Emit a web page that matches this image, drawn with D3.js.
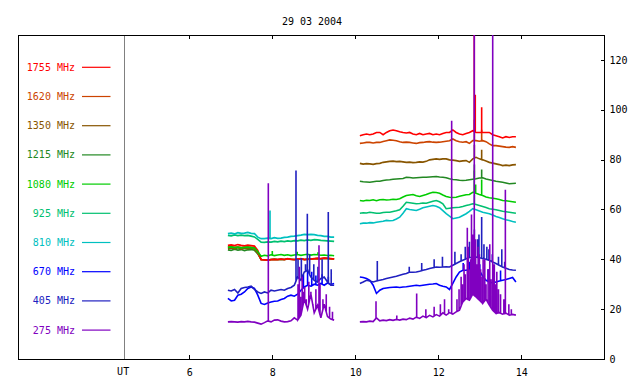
<!DOCTYPE html>
<html><head><meta charset="utf-8">
<script src="https://cdn.jsdelivr.net/npm/d3@7"></script>
<style>
body{margin:0;background:#fff;}
svg{display:block;}
text{font-family:"DejaVu Sans Mono","Liberation Mono",monospace;font-size:10px;}
</style></head>
<body>
<svg id="c" width="640" height="384"></svg>
<script>
// ---- data ----
const title = "29 03 2004";
const freqs = ["1755 MHz","1620 MHz","1350 MHz","1215 MHz","1080 MHz","925 MHz","810 MHz","670 MHz","405 MHz","275 MHz"];
const colors = ["#ff0000","#cc4400","#885500","#228822","#00cc00","#00c070","#00c0c0","#0000ff","#2020c0","#8000c0"];
const xTicks = [6,8,10,12,14];
const yTicks = [0,20,40,60,80,100,120];
const seg1Start = 6.93, seg2Start = 10.11, sampleStep = 0.08;

// segment 1 (33 samples), segment 2 (48 samples)
const v1755a = [45.6,45.8,45.5,45.9,45.6,45.4,45.7,45.5,45.3,43.6,39.9,39.8,39.6,39.9,40.0,39.9,40.1,39.9,40.3,40.0,39.9,40.1,40.3,39.9,40.0,40.1,40.3,40.4,40.3,40.5,40.4,40.3,40.1];
const v1755b = [89.6,90.0,90.3,90.0,90.3,90.9,90.9,90.0,90.9,91.6,91.9,91.6,91.2,90.9,90.7,90.9,90.3,90.0,90.5,90.0,90.3,90.5,90.0,90.3,90.0,90.5,90.9,90.9,91.9,90.9,90.3,90.0,90.5,90.9,91.6,90.9,90.9,90.9,90.9,90.9,90.0,89.6,89.2,88.7,89.2,88.9,89.2,89.2];
const v1620a = [44.9,45.1,44.8,45.0,44.7,44.9,45.0,44.8,44.6,42.8,39.8,39.7,39.6,39.8,39.9,39.8,40.0,39.8,40.1,39.9,39.8,40.0,40.1,39.8,39.9,40.0,40.2,40.3,40.2,40.3,40.3,40.2,40.0];
const v1620b = [86.5,86.7,86.9,86.9,86.7,86.9,86.9,87.3,87.6,87.9,87.8,87.6,87.2,86.9,87.0,86.9,86.7,86.5,86.8,86.9,87.1,87.2,87.0,86.9,87.0,87.2,87.4,87.6,88.3,87.6,87.2,87.0,87.2,86.5,87.6,87.6,87.4,87.6,87.2,86.3,85.6,85.6,85.4,85.2,85.0,84.9,85.2,84.9];
const v1350a = [44.3,44.5,44.2,44.6,44.1,44.4,44.3,44.5,44.0,42.5,39.9,39.8,39.7,39.9,40.0,39.9,40.0,39.9,40.1,40.0,39.9,40.0,40.2,39.9,40.0,40.1,40.2,40.3,40.2,40.4,40.3,40.2,40.1];
const v1350b = [78.5,78.2,78.4,78.3,78.1,78.4,78.5,78.9,79.1,79.3,79.4,79.2,79.3,79.1,78.9,79.0,78.8,78.9,79.1,79.0,79.3,79.9,80.1,80.3,80.1,80.3,80.3,79.9,79.8,79.6,79.3,79.5,79.6,78.9,80.3,80.9,80.3,79.9,79.4,78.9,78.6,78.3,78.0,77.6,77.8,77.6,77.9,78.0];
const v1215a = [43.8,43.6,44.0,43.7,43.9,43.5,43.8,43.9,43.6,42.2,39.9,39.8,39.7,39.9,40.0,39.9,40.0,39.9,40.1,40.0,39.9,40.0,40.2,39.9,40.0,40.1,40.2,40.3,40.2,40.4,40.3,40.2,40.1];
const v1215b = [71.3,71.1,71.0,70.9,71.1,71.3,71.3,71.6,71.8,71.9,72.1,72.2,72.3,72.4,72.9,72.8,72.6,72.7,72.8,72.9,72.9,73.0,73.1,73.2,73.0,72.9,72.7,72.3,72.0,71.9,71.7,71.6,71.7,71.9,72.1,72.3,72.6,72.7,72.2,71.9,71.6,71.3,71.1,70.9,70.6,70.3,70.4,70.5];
const v1080a = [44.8,45.0,44.7,44.9,44.6,44.8,44.9,44.7,44.5,43.0,41.2,41.6,41.4,41.8,41.5,41.7,41.9,41.6,41.8,41.5,41.7,41.9,41.6,41.8,42.0,41.7,41.9,41.8,41.6,41.7,41.5,41.6,41.4];
const v1080b = [63.6,63.4,63.7,63.6,63.9,63.5,63.9,64.0,63.8,63.9,64.1,64.0,64.3,65.0,65.6,65.8,66.0,65.5,65.2,65.6,66.0,66.5,66.9,66.8,66.5,65.8,65.2,64.9,64.8,64.9,65.3,65.6,65.9,66.0,66.9,66.5,66.0,65.6,65.0,64.7,64.5,64.3,64.0,63.6,63.5,63.3,63.1,62.9];
const v925a = [49.6,49.4,49.8,49.5,49.7,49.5,49.6,49.3,49.0,48.0,46.9,46.8,47.0,46.9,47.2,47.0,47.3,47.1,47.4,47.2,47.5,47.4,47.7,47.5,47.8,47.6,47.9,47.8,47.6,47.5,47.4,47.3,47.2];
const v925b = [58.5,58.7,58.6,58.9,58.7,58.5,58.5,58.8,58.9,58.9,59.2,59.5,59.9,61.3,62.9,62.7,62.5,62.3,62.4,62.6,62.5,62.9,63.3,63.6,63.1,62.3,60.3,60.5,60.7,60.8,60.9,61.2,61.6,61.9,62.3,62.0,61.6,61.2,60.8,60.3,60.1,59.9,59.6,59.3,59.1,58.9,58.7,58.5];
const v810a = [50.3,50.5,50.2,50.7,50.4,50.5,50.8,50.4,50.3,48.9,48.3,48.3,48.5,48.3,48.7,48.4,48.5,48.8,48.9,49.2,49.3,49.5,49.7,50.0,49.9,50.0,49.9,49.6,49.5,49.2,49.2,48.9,48.9];
const v810b = [54.3,54.5,54.5,54.7,54.6,54.9,55.1,55.3,55.6,55.5,55.6,56.2,56.9,58.5,60.3,60.0,59.8,59.6,60.1,60.7,61.0,61.3,61.6,61.3,60.7,59.5,58.3,57.3,56.3,56.6,56.9,57.6,58.3,59.2,60.3,59.9,59.4,58.9,58.6,58.3,57.8,57.2,56.8,56.3,55.9,55.6,55.2,54.9];
const v670a = [24.3,23.3,23.6,25.6,26.0,26.9,28.3,28.9,28.3,25.6,22.3,21.9,22.5,22.9,23.2,23.3,23.9,24.3,25.2,25.6,25.2,26.0,27.6,28.9,29.6,29.2,30.0,29.6,30.3,29.6,30.5,29.9,30.3];
const v670b = [32.9,32.7,32.3,31.6,29.6,26.3,27.6,28.3,28.5,28.7,28.8,28.9,28.7,28.9,29.0,29.2,29.4,29.6,29.4,29.6,29.8,30.0,30.1,30.3,29.6,29.2,28.9,27.9,30.3,32.9,34.9,35.6,35.6,35.9,36.3,36.7,35.6,33.2,31.6,30.9,30.5,30.9,31.3,31.6,31.9,32.3,32.7,30.9];
const v405a = [27.6,27.3,27.9,26.5,28.3,28.7,28.9,29.2,27.9,26.9,26.3,26.9,26.5,27.6,27.3,27.6,27.9,27.6,28.3,28.7,29.6,32.9,31.6,34.9,35.6,32.9,31.6,30.9,32.3,32.9,30.9,29.6,29.6];
const v405b = [30.3,30.9,31.6,31.3,30.9,31.3,31.6,31.9,32.3,32.6,32.9,33.2,33.6,34.0,34.3,34.9,34.8,34.9,35.2,35.6,35.9,36.3,36.6,36.9,36.8,36.9,37.0,36.9,37.6,38.3,39.0,39.6,40.2,40.7,40.8,40.9,40.6,40.3,40.0,39.6,38.9,38.3,37.6,36.9,36.4,35.9,35.7,35.6];
const v275a = [14.9,15.0,14.9,14.8,15.0,14.9,15.1,14.9,14.8,14.4,14.0,14.6,15.3,14.9,15.6,15.7,15.2,14.9,15.0,15.3,16.5,15.6,17.6,24.0,20.0,26.0,18.5,21.5,16.5,22.0,17.0,16.0,15.6];
const v275b = [14.9,15.0,14.9,15.2,15.0,16.5,15.3,15.6,15.4,15.8,15.5,15.9,15.6,16.0,15.8,16.4,16.0,16.8,16.3,17.2,16.6,17.5,16.9,17.8,17.2,18.5,17.6,18.6,18.0,18.9,19.6,22.9,24.3,23.6,26.0,24.9,23.6,22.3,24.0,21.6,19.6,18.3,18.6,18.0,18.4,17.6,17.9,17.6];

// spikes: [time (h UT), peak value]
const s1755 = [[12.867,131],[12.891,106],[13.045,101]];
const s1620 = [[12.87,96],[13.045,92]];
const s1350 = [[12.87,86],[13.045,84]];
const s1215 = [[12.87,78],[13.045,76]];
const s1080 = [[8.0,43.3],[8.6,43],[9.1,42.8],[12.867,75.6],[12.9,70],[13.045,72]];
const s925 = [[12.87,66]];
const s810 = [[7.945,59.6]];
const s670 = [[8.75,34],[8.85,36],[8.95,35],[9.05,33.5],[9.2,34],[9.35,33],[12.6,38.5],[12.75,39],[13.0,38],[13.2,36],[13.5,35.5]];
const s405 = [[8.571,75.6],[8.62,40],[8.70,40.5],[8.80,38],[8.844,58.3],[8.90,42],[9.0,38],[9.1,37],[9.2,40],[9.349,59.0],[9.42,36],
  [10.53,39.3],[11.3,37],[11.6,38.5],[11.9,40],[12.1,41],[12.40,43],[12.55,42],[12.65,45],[12.75,47],[12.82,44],[12.87,52],[12.95,48],[12.98,50],[13.045,57],[13.10,46],[13.17,45],[13.22,44],[13.30,42],[13.45,41],[13.53,44],[13.60,39]];
const s275 = [[7.904,70.5],[8.62,30],[8.651,37],[8.68,25],[8.72,33],[8.75,27],[8.78,29],[8.82,24],[8.88,31],[8.93,27],[8.98,22],[9.05,28],[9.125,45.6],[9.15,30],[9.22,24],[9.3,26],[9.38,21],[9.45,19],
  [10.499,23.2],[11.0,17.5],[11.479,26.3],[11.7,20],[11.9,21],[12.05,22],[12.15,24],[12.25,20],[12.322,95.6],[12.45,24],[12.50,28],[12.55,33],[12.58,30],[12.62,38],[12.65,34],[12.699,52.7],[12.72,45],[12.74,36],[12.78,40],[12.80,58],[12.83,50],[12.867,131],[12.90,48],[12.93,38],[12.96,45],[12.99,42],[13.02,36],[13.06,33],[13.08,40],[13.12,40],[13.15,30],[13.20,36],[13.24,46],[13.27,32],[13.311,131],[13.35,38],[13.38,30],[13.41,35],[13.45,28],[13.50,26],[13.58,24],[13.616,67.9],[13.70,22],[13.76,20]];

const segA = [v1755a,v1620a,v1350a,v1215a,v1080a,v925a,v810a,v670a,v405a,v275a];
const segB = [v1755b,v1620b,v1350b,v1215b,v1080b,v925b,v810b,v670b,v405b,v275b];
const spikes = [s1755,s1620,s1350,s1215,s1080,s925,s810,s670,s405,s275];
const drawOrder = [3,2,1,0,4,5,6,7,8,9];

// ---- layout ----
const L = 18, R = 604.5, T = 35, B = 359;
const svg = d3.select("#c");
const x = d3.scaleLinear().domain([6,14]).range([189.3,521.3]);
const y = d3.scaleLinear().domain([0,130]).range([B,T]);

svg.append("defs").append("clipPath").attr("id","clip")
  .append("rect").attr("x",L).attr("y",T).attr("width",R-L).attr("height",B-T);

// title
svg.append("text").attr("x",312).attr("y",25).attr("text-anchor","middle").attr("fill","#000").text(title);

// UT line
svg.append("line").attr("x1",x(4.43)).attr("x2",x(4.43)).attr("y1",T).attr("y2",B)
  .attr("stroke","#808080").attr("stroke-width",1).attr("shape-rendering","crispEdges");
svg.append("text").attr("x",x(4.43)-1).attr("y",375).attr("text-anchor","middle").text("UT");

// axes
const gx = svg.append("g").attr("transform",`translate(0,${B})`)
  .call(d3.axisBottom(x).tickValues(xTicks).tickSizeInner(-4).tickSizeOuter(0).tickPadding(9.5).tickFormat(d3.format("d")));
const gxt = svg.append("g").attr("transform",`translate(0,${T})`)
  .call(d3.axisTop(x).tickValues(xTicks).tickSizeInner(-4).tickSizeOuter(0).tickFormat(""));
const gy = svg.append("g").attr("transform",`translate(${R},0)`)
  .call(d3.axisRight(y).tickValues(yTicks).tickSizeInner(-4).tickSizeOuter(0).tickPadding(5));
[gx,gxt,gy].forEach(g=>{
  g.select(".domain").remove();
  g.selectAll("line").attr("stroke","#000").attr("shape-rendering","crispEdges");
  g.selectAll("text").attr("font-family","DejaVu Sans Mono, monospace").attr("font-size",10).attr("fill","#000");
});

// frame
svg.append("rect").attr("x",L).attr("y",T).attr("width",R-L).attr("height",B-T)
  .attr("fill","none").attr("stroke","#000").attr("stroke-width",1).attr("shape-rendering","crispEdges");

// legend
const leg = svg.append("g");
freqs.forEach((f,i)=>{
  const yy = 67.3 + i*29.2;
  leg.append("text").attr("x",75).attr("y",yy).attr("dy","0.35em").attr("text-anchor","end")
    .attr("fill",colors[i]).text(f);
  leg.append("line").attr("x1",82).attr("x2",110.5).attr("y1",yy).attr("y2",yy)
    .attr("stroke",colors[i]).attr("stroke-width",1.2);
});

// series
function buildSeg(vals, t0, spk){
  const pts = vals.map((v,i)=>[t0 + i*sampleStep, v]);
  const tEnd = pts[pts.length-1][0];
  const out = pts.slice();
  spk.forEach(([t,p])=>{
    if (t < t0 || t > tEnd) return;
    const j = Math.min(Math.floor((t - t0)/sampleStep), vals.length-2);
    const f = (t - pts[j][0])/sampleStep;
    const base = vals[j] + (vals[j+1]-vals[j])*f;
    out.push([t-0.0001, base],[t,p],[t+0.0001, base]);
  });
  out.sort((a,b)=>a[0]-b[0]);
  return out;
}
const line = d3.line().x(d=>x(d[0])).y(d=>y(d[1]));
const plot = svg.append("g").attr("clip-path","url(#clip)");
drawOrder.forEach(k=>{
  [buildSeg(segA[k], seg1Start, spikes[k]), buildSeg(segB[k], seg2Start, spikes[k])].forEach(seg=>{
    plot.append("path").datum(seg).attr("d",line)
      .attr("fill","none").attr("stroke",colors[k]).attr("stroke-width",1.6).attr("stroke-linejoin","miter");
  });
});
</script>
</body></html>
